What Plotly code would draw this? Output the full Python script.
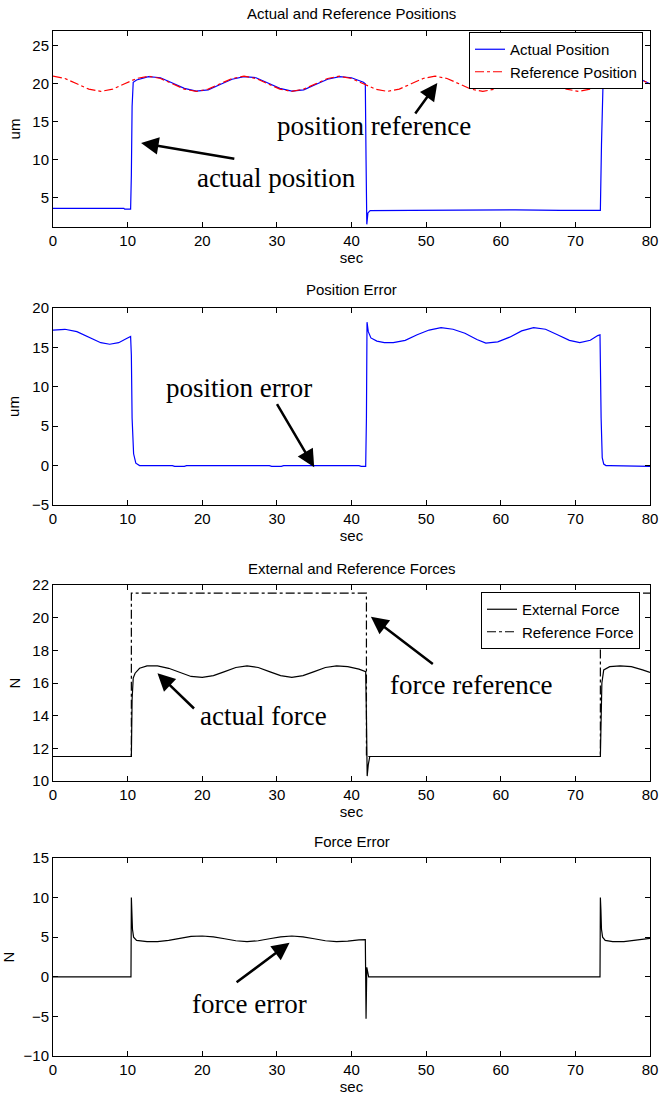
import plotly.graph_objects as go
from plotly.subplots import make_subplots

# ---------------- data ----------------
ref_pos_t = [0, 1.6, 3.2, 4.8, 6.4, 8.0, 9.6, 11.2, 12.8, 14.4, 16.0, 17.6, 19.2, 20.8, 22.4, 24.0,
             25.6, 27.2, 28.8, 30.4, 32.0, 33.6, 35.2, 36.8, 38.4, 40.0, 41.6, 43.2, 44.8, 46.4, 48.0,
             49.6, 51.2, 52.8, 54.4, 56.0, 57.6, 59.2, 60.8, 62.4, 64.0, 65.6, 67.2, 68.8, 70.4, 72.0,
             73.6, 75.2, 76.8, 78.4, 80.0]
ref_pos_v = [21.0, 20.7, 20.0, 19.3, 19.0, 19.3, 20.0, 20.7,
             21.0, 20.7, 20.0, 19.3, 19.0, 19.3, 20.0, 20.7,
             21.0, 20.7, 20.0, 19.3, 19.0, 19.3, 20.0, 20.7,
             21.0, 20.7, 20.0, 19.3, 19.0, 19.3, 20.0, 20.7,
             21.0, 20.7, 20.0, 19.3, 19.0, 19.3, 20.0, 20.7,
             21.0, 20.7, 20.0, 19.3, 19.0, 19.3, 20.0, 20.7,
             21.0, 20.7, 20.0]

act_pos_t = [0, 9.5, 9.6, 10.4, 10.5, 10.6, 10.75, 11.2,
             12.8, 14.4, 16.0, 17.6, 19.2, 20.8, 22.4, 24.0, 25.6, 27.2, 28.8, 30.4, 32.0, 33.6,
             35.2, 36.8, 38.4, 40.0, 41.6,
             41.85, 41.95, 42.05, 42.2, 42.5,
             48, 55, 62, 68, 73.2,
             73.35, 73.5, 73.7, 74.0,
             75.2, 76.8, 78.4, 80.0]
act_pos_v = [3.6, 3.6, 3.5, 3.5, 8.0, 17.0, 20.2, 20.5,
             20.95, 20.8, 20.1, 19.4, 19.05, 19.2, 19.9, 20.6, 20.95, 20.8, 20.1, 19.4, 19.05, 19.2,
             19.9, 20.6, 20.95, 20.8, 20.2,
             20.0, 10.0, 1.5, 3.0, 3.3,
             3.35, 3.4, 3.4, 3.35, 3.35,
             3.35, 12.0, 19.8, 20.3,
             20.6, 21.0, 20.75, 20.0]

pos_err_t = [0, 1.6, 3.2, 4.8, 6.4, 7.6, 8.8, 9.8, 10.4,
             10.5, 10.6, 10.8, 11.1, 11.6,
             16.0, 16.3, 17.6, 17.9,
             29.0, 29.3, 30.6, 30.9,
             41.0, 41.3, 41.9, 42.0, 42.08, 42.25, 42.6,
             43.4, 44.4, 45.6, 47.2, 48.8, 50.4, 52.0, 53.6, 55.2, 56.8, 58.0, 59.6, 61.2, 62.8,
             64.4, 66.0, 67.6, 69.2, 70.6, 72.0, 73.0, 73.3,
             73.45, 73.6, 73.8, 74.1, 74.6, 80]
pos_err_v = [17.2, 17.3, 17.0, 16.3, 15.6, 15.4, 15.6, 16.1, 16.4,
             14.0, 6.0, 1.5, 0.3, 0.0,
             0.0, -0.1, -0.1, 0.0,
             0.0, -0.1, -0.1, 0.0,
             0.0, -0.1, -0.1, 6.0, 18.2, 17.0, 16.2,
             15.8, 15.6, 15.6, 15.9, 16.6, 17.2, 17.5, 17.3, 16.8, 16.0, 15.55, 15.7, 16.3, 17.1,
             17.5, 17.3, 16.6, 15.9, 15.6, 15.9, 16.5, 16.6,
             6.0, 1.0, 0.2, 0.0, 0.0, -0.1]

ext_force_t = [0, 10.5, 10.6, 10.75, 11.0, 11.6, 12.6,
               14.0, 15.5, 17.0, 18.5, 20.0, 21.5, 23.0, 24.5, 26.0, 27.5, 29.0, 30.5, 32.0, 33.5,
               35.0, 36.5, 38.0, 39.5, 41.0,
               41.9, 42.0, 42.1, 42.25, 42.45,
               73.35, 73.45, 73.55, 73.8, 74.6, 76.0, 77.5, 79.0, 80.0]
ext_force_v = [11.5, 11.5, 15.0, 16.3, 16.6, 16.9, 17.05,
               17.05, 16.9, 16.65, 16.4, 16.35, 16.45, 16.7, 16.95, 17.05, 16.95, 16.7, 16.45, 16.35, 16.45,
               16.7, 16.95, 17.05, 17.0, 16.85,
               16.7, 14.0, 10.3, 11.0, 11.5,
               11.5, 13.0, 16.0, 16.8, 17.0, 17.05, 17.0, 16.8, 16.65]

ref_force_t = [0, 10.5, 10.5, 42.0, 42.0, 73.35, 73.35, 80]
ref_force_v = [11.5, 11.5, 21.5, 21.5, 11.5, 11.5, 21.5, 21.5]

force_err_t = [0, 10.45, 10.5, 10.55, 10.65, 10.8, 11.2, 12.6,
               14.0, 15.5, 17.0, 18.5, 20.0, 21.5, 23.0, 24.5, 26.0, 27.5, 29.0, 30.5, 32.0, 33.5,
               35.0, 36.5, 38.0, 39.5, 41.0,
               41.85, 41.9, 41.95, 42.0, 42.05, 42.15, 42.3,
               73.3, 73.35, 73.42, 73.5, 73.65, 74.0, 75.0, 76.5, 78.0, 79.0, 80.0]
force_err_v = [0, 0, 10.0, 8.0, 6.0, 5.0, 4.6, 4.45,
               4.45, 4.6, 4.85, 5.1, 5.15, 5.05, 4.8, 4.55, 4.45, 4.55, 4.8, 5.05, 5.15, 5.05,
               4.8, 4.55, 4.45, 4.5, 4.65,
               4.7, 0.0, -5.3, -2.0, 1.2, 0.5, 0.0,
               0.0, 10.0, 8.5, 6.0, 5.0, 4.6, 4.45, 4.45, 4.6, 4.75, 4.85]

titles = ["Actual and Reference Positions", "Position Error",
          "External and Reference Forces", "Force Error"]
y_titles = ["um", "um", "N", "N"]
x_ticks = [0, 10, 20, 30, 40, 50, 60, 70, 80]
y_ranges = [[1.15, 26.95], [-5, 20], [10, 22], [-10, 15]]
y_ticks = [[5, 10, 15, 20, 25], [-5, 0, 5, 10, 15, 20],
           [10, 12, 14, 16, 18, 20, 22], [-10, -5, 0, 5, 10, 15]]

# ---------------- figure ----------------
W, H = 660, 1095
ML, MR, MT, MB = 53, 10, 31, 39
PH = H - MT - MB
box_px = [(31, 227), (308, 505), (585, 781), (858, 1056)]   # top, bottom pixel of each axes box


def py2paper(py):
    return (H - MB - py) / PH


def px2paper(px):
    return (px - ML) / (W - ML - MR)


fig = make_subplots(rows=4, cols=1)
SANS = "Liberation Sans, Arial, sans-serif"
SERIF = "Liberation Serif, Times New Roman, serif"

fig.add_trace(go.Scatter(x=act_pos_t, y=act_pos_v, mode="lines", name="Actual Position",
                         line=dict(color="#0000ff", width=1.2), legend="legend"), row=1, col=1)
fig.add_trace(go.Scatter(x=ref_pos_t, y=ref_pos_v, mode="lines", name="Reference Position",
                         line=dict(color="#ff0000", width=1.2, dash="dashdot"), legend="legend"), row=1, col=1)
fig.add_trace(go.Scatter(x=pos_err_t, y=pos_err_v, mode="lines", showlegend=False,
                         line=dict(color="#0000ff", width=1.2)), row=2, col=1)
fig.add_trace(go.Scatter(x=ext_force_t, y=ext_force_v, mode="lines", name="External Force",
                         line=dict(color="black", width=1.2), legend="legend2"), row=3, col=1)
fig.add_trace(go.Scatter(x=ref_force_t, y=ref_force_v, mode="lines", name="Reference Force",
                         line=dict(color="black", width=1.2, dash="dashdot"), legend="legend2"), row=3, col=1)
fig.add_trace(go.Scatter(x=force_err_t, y=force_err_v, mode="lines", showlegend=False,
                         line=dict(color="black", width=1.2)), row=4, col=1)

axis_common = dict(showline=True, linecolor="black", linewidth=1, mirror="ticks",
                   ticks="inside", ticklen=5, tickcolor="black", showgrid=False, zeroline=False,
                   automargin=False,
                   tickfont=dict(family=SANS, size=15, color="black"))

for i in range(4):
    top, bot = box_px[i]
    fig.update_xaxes(range=[0, 80], tickvals=x_ticks, domain=[0, 1],
                     title=dict(text="sec", font=dict(family=SANS, size=15, color="black"), standoff=2),
                     **axis_common, row=i + 1, col=1)
    fig.update_yaxes(range=y_ranges[i], tickvals=y_ticks[i], domain=[py2paper(bot), py2paper(top)],
                     title=dict(text=y_titles[i], font=dict(family=SANS, size=15, color="black"), standoff=8),
                     **axis_common, row=i + 1, col=1)

title_px = [14, 289, 568, 841]
annotations = []
for i in range(4):
    annotations.append(dict(text=titles[i], xref="paper", yref="paper", x=0.5, y=py2paper(title_px[i]),
                            xanchor="center", yanchor="middle", showarrow=False,
                            font=dict(family=SANS, size=15, color="black")))

# text labels and arrows: (axis n, text, text x, text y, tail x, tail y, head x, head y)
callouts = [
    (1, "position reference", 43.0, 14.4, 48.4, 15.9, 51.5, 20.1),
    (1, "actual position", 29.9, 7.6, 24.5, 10.1, 11.8, 12.2),
    (2, "position error", 24.9, 9.8, 29.9, 8.0, 35.0, -0.2),
    (3, "actual force", 28.2, 14.0, 19.1, 14.35, 14.0, 16.6),
    (3, "force reference", 56.1, 15.9, 51.1, 17.1, 42.6, 20.06),
    (4, "force error", 26.3, -3.4, 24.4, -0.84, 31.7, 4.3),
]
for n, txt, tx, ty, ax_, ay_, hx, hy in callouts:
    xr = "x" if n == 1 else f"x{n}"
    yr = "y" if n == 1 else f"y{n}"
    annotations.append(dict(text=txt, xref=xr, yref=yr, x=tx, y=ty, showarrow=False,
                            xanchor="center", yanchor="middle",
                            font=dict(family=SERIF, size=27, color="black")))
    annotations.append(dict(text="", xref=xr, yref=yr, x=hx, y=hy, axref=xr, ayref=yr,
                            ax=ax_, ay=ay_, showarrow=True, arrowhead=2, arrowsize=1.4,
                            arrowwidth=2.5, arrowcolor="black"))

fig.update_layout(
    width=W, height=H,
    margin=dict(l=ML, r=MR, t=MT, b=MB, autoexpand=False),
    paper_bgcolor="white", plot_bgcolor="white",
    font=dict(family=SANS, size=15, color="black"),
    annotations=annotations,
    legend=dict(x=px2paper(643), y=py2paper(32), xanchor="right", yanchor="top",
                bgcolor="white", bordercolor="black", borderwidth=1,
                font=dict(family=SANS, size=15, color="black"), tracegroupgap=0,
                itemwidth=30),
    legend2=dict(x=px2paper(640), y=py2paper(592), xanchor="right", yanchor="top",
                 bgcolor="white", bordercolor="black", borderwidth=1,
                 font=dict(family=SANS, size=15, color="black"), tracegroupgap=0,
                 itemwidth=30),
)

# remove the default 8px page margin so the figure sits at the window's top-left corner
fig.write_html("out.html", config={"displayModeBar": False},
               post_script="document.body.style.margin='0';document.body.style.overflow='hidden';")
